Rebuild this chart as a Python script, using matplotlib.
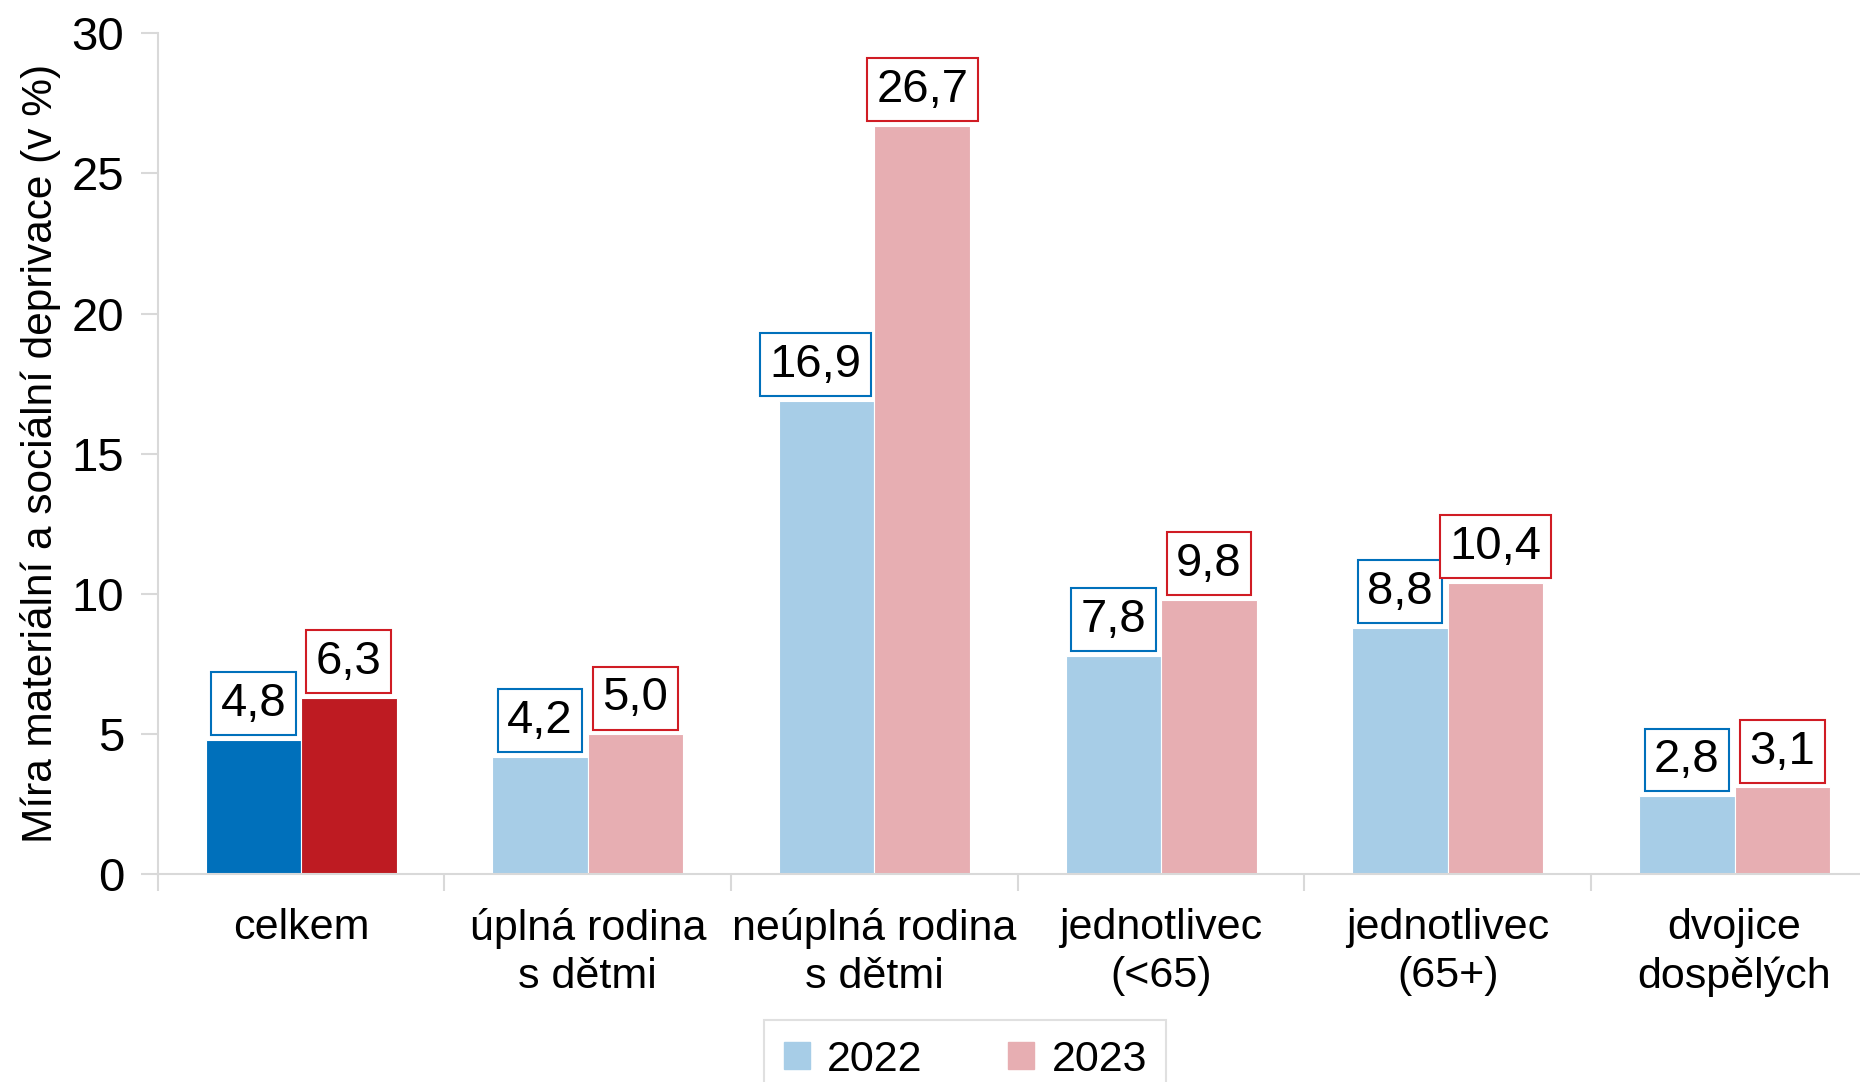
import numpy as np
import matplotlib.pyplot as plt

plt.rcParams['font.family'] = ['Liberation Sans', 'DejaVu Sans']

kategorie = ["celkem", "úplná rodina\ns dětmi", "neúplná rodina\ns dětmi",
             "jednotlivec\n(<65)", "jednotlivec\n(65+)", "dvojice\ndospělých"]
hodnoty_2022 = [4.8, 4.2, 16.9, 7.8, 8.8, 2.8]
hodnoty_2023 = [6.3, 5.0, 26.7, 9.8, 10.4, 3.1]
roky = ["2022", "2023"]

svetle_modra = "#A7CDE7"
svetle_cervena = "#E7AEB2"
tmave_modra = "#0070BB"
tmave_cervena = "#BE1B22"

fig = plt.figure(figsize=(18.6, 10.82), dpi=100)
ax = fig.add_axes([0.0848, 0.1919, 1.0096 - 0.0848, 0.9693 - 0.1919])

x = np.arange(len(kategorie))
w = 0.333
barvy22 = [tmave_modra] + [svetle_modra] * 5
barvy23 = [tmave_cervena] + [svetle_cervena] * 5
b1 = ax.bar(x - w / 2, hodnoty_2022, w, color=barvy22, edgecolor="white", linewidth=0.8)
b2 = ax.bar(x + w / 2, hodnoty_2023, w, color=barvy23, edgecolor="white", linewidth=0.8)

def popisky(bars, vals, barva, posuny=None):
    for i, (r, v) in enumerate(zip(bars, vals)):
        dx = posuny.get(i, 0) if posuny else 0
        ax.annotate(f"{v:.1f}".replace(".", ","),
                    (r.get_x() + r.get_width() / 2, v),
                    xytext=(dx, 10), textcoords="offset points",
                    ha="center", va="bottom", fontsize=34,
                    bbox=dict(boxstyle="square,pad=0.2", fc="white", ec=barva, lw=1.5))

# excel posunul popisek 16,9 doleva, aby nezasahoval do vedlejsiho sloupce
popisky(b1, hodnoty_2022, tmave_modra, {2: -8})
popisky(b2, hodnoty_2023, "#D01C24")

ax.set_xlim(-0.5, len(kategorie) - 0.5)
ax.set_ylim(0, 30)
ax.set_yticks(range(0, 31, 5))
ax.tick_params(axis="y", labelsize=34, length=12, color="#D9D9D9", width=1.5, pad=12)
ax.set_xticks(x)
ax.set_xticklabels(kategorie, fontsize=31, linespacing=1.27)
ax.tick_params(axis="x", length=0, pad=24)
ax.set_xticks(np.arange(-0.5, len(kategorie), 1), minor=True)
ax.tick_params(axis="x", which="minor", length=12, color="#D9D9D9", width=1.5)

for s in ["top", "right"]:
    ax.spines[s].set_visible(False)
for s in ["left", "bottom"]:
    ax.spines[s].set_color("#D9D9D9")
    ax.spines[s].set_linewidth(1.5)

ax.set_ylabel("Míra materiální a sociální deprivace (v %)", fontsize=30.5, labelpad=8)

h = [plt.Rectangle((0, 0), 1, 1, color=svetle_modra), plt.Rectangle((0, 0), 1, 1, color=svetle_cervena)]
leg = fig.legend(h, roky, loc="upper center", bbox_to_anchor=(0.519, 0.057), ncol=2,
                 fontsize=31, frameon=True, fancybox=False, edgecolor="#D9D9D9",
                 handlelength=0.6, handleheight=0.6, handletextpad=0.4, columnspacing=2.0,
                 borderpad=0.45, borderaxespad=0)
leg.get_frame().set_linewidth(1.5)

fig.savefig("out.png", dpi=100)
